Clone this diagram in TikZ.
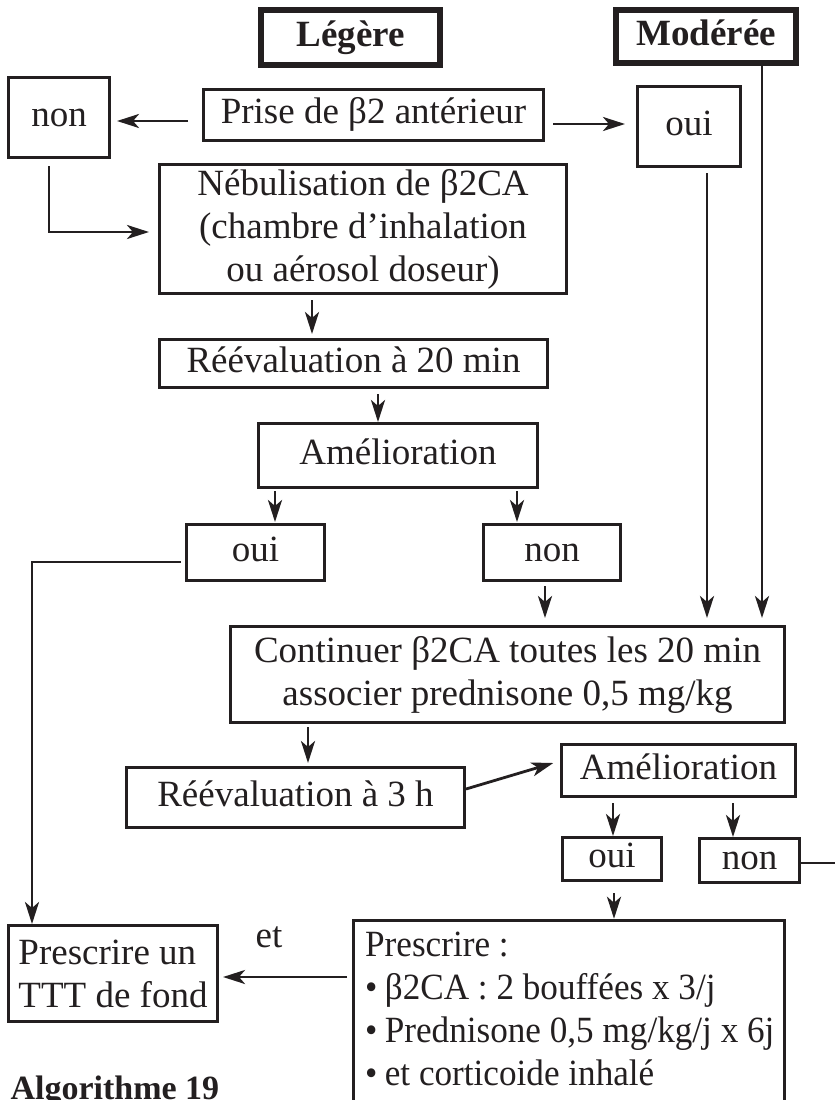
\documentclass[tikz,border=0pt]{standalone}
\usepackage{fontspec}
\setmainfont{Liberation Serif}
\newfontfamily\presfont[FakeStretch=0.95]{Liberation Serif}
\usetikzlibrary{arrows.meta}
\definecolor{ink}{RGB}{35,31,32}
\begin{document}
\begin{tikzpicture}[x=1pt,y=-1pt,
  every node/.style={font=\fontsize{37}{43}\selectfont, text=ink},
  box/.style={draw=ink, line width=3.2pt, inner sep=0pt},
  onel/.style={text height=25pt, text depth=8pt},
  head/.style={box, onel, line width=6pt, font=\fontsize{37}{43}\selectfont\bfseries},
  arr/.style={draw=ink, line width=2.8pt, -{Stealth[length=22pt,width=14pt,inset=6pt]}},
  link/.style={draw=ink, line width=2.8pt},
]
\fill[white] (0,0) rectangle (835,1100);
\useasboundingbox (0,0) rectangle (835,1100);

% severity headers
\node[head, minimum width=179pt, minimum height=55pt] (leg) at (350.5,37.5) {Légère};
\node[head, minimum width=180pt, minimum height=53pt] (mod) at (706,36.5) {Modérée};

% first decision
\node[box, onel, minimum width=339.8pt, minimum height=50.8pt] (prise) at (373.5,115) {Prise de β2 antérieur};
\node[box, onel, minimum width=100.8pt, minimum height=79.8pt] (non1) at (59,117.5) {non};
\node[box, onel, minimum width=102.8pt, minimum height=79.8pt] (oui1) at (689,126.5) {oui};

\node[box, align=center, minimum width=406.8pt, minimum height=128.8pt] (neb) at (363,229)
  {Nébulisation de β2CA\\(chambre d’inhalation\\ou aérosol doseur)};
\node[box, onel, minimum width=387.8pt, minimum height=47.8pt] (ree20) at (353.5,363.5) {Réévaluation à 20 min};
\node[box, onel, minimum width=278.8pt, minimum height=63.8pt] (ame1) at (398,455.5) {Amélioration};
\node[box, onel, minimum width=137.8pt, minimum height=55.8pt] (oui2) at (255.5,552.5) {oui};
\node[box, onel, minimum width=136.8pt, minimum height=55.8pt] (non2) at (552,552.5) {non};

\node[box, align=center, minimum width=553.8pt, minimum height=95.8pt] (cont) at (507.5,674.5)
  {Continuer β2CA toutes les 20 min\\associer prednisone 0,5 mg/kg};
\node[box, onel, minimum width=337.8pt, minimum height=59.8pt] (ree3) at (295.5,797.5) {Réévaluation à 3 h};
\node[box, onel, minimum width=233.8pt, minimum height=51.8pt] (ame2) at (678.5,770.5) {Amélioration};
\node[box, onel, minimum width=98.8pt, minimum height=42.8pt] (oui3) at (612,859) {oui};
\node[box, onel, minimum width=99.8pt, minimum height=43.8pt] (non3) at (749.5,860.5) {non};

% treatment boxes
\node[box, minimum width=430.8pt, minimum height=198pt] (presc) at (569,1019.35) {};
\node[anchor=north west, align=left, inner sep=0pt, font=\presfont\fontsize{37}{43}\selectfont] (presctext) at (365,931.7)
  {Prescrire :\\•\hspace{0.2em}β2CA : 2 bouffées x 3/j\\•\hspace{0.2em}Prednisone 0,5 mg/kg/j x 6j\\•\hspace{0.2em}et corticoide inhalé};
\node[box, align=left, minimum width=208.8pt, minimum height=95.8pt] (fond) at (113,973.5)
  {Prescrire un\\TTT de fond};
\node[anchor=base] (et) at (269,947) {et};
\node[anchor=base west, font=\fontsize{34}{40}\selectfont\bfseries] (algo) at (7,1099) {Algorithme 19};

% connectors
\draw[arr, shorten <=14pt, shorten >=6pt] (prise.west |- 0,121) -- (non1.east |- 0,121);
\draw[arr, shorten <=8pt, shorten >=11pt] (prise.east |- 0,124) -- (oui1.west |- 0,124);
\draw[arr, shorten <=7pt, shorten >=9pt] (non1.south -| 49,0) |- (neb.west |- 0,232);
\draw[arr, shorten <=5pt, shorten >=4pt] (neb.south -| 312,0) -- (ree20.north -| 312,0);
\draw[arr, shorten <=5pt] (ree20.south -| 378,0) -- (ame1.north -| 378,0);
\draw[arr, shorten <=2pt, shorten >=1pt] (ame1.south -| 275,0) -- (oui2.north -| 275,0);
\draw[arr, shorten <=2pt, shorten >=1pt] (ame1.south -| 517,0) -- (non2.north -| 517,0);
\draw[arr, shorten <=4pt] (oui2.west |- 0,562) -| (fond.north -| 32,0);
\draw[arr, shorten <=4pt, shorten >=7pt] (non2.south -| 545,0) -- (cont.north -| 545,0);
\draw[arr, shorten <=5pt, shorten >=7pt] (oui1.south -| 707,0) -- (cont.north -| 707,0);
\draw[arr, shorten >=7pt] (mod.south -| 762,0) -- (cont.north -| 762,0);
\draw[arr, shorten <=3pt, shorten >=3pt] (cont.south -| 308,0) -- (ree3.north -| 308,0);
\draw[arr, shorten >=7pt] (ree3.east |- 0,789) -- (ame2.west |- 0,761);
\draw[arr, shorten <=5pt] (ame2.south -| 613,0) -- (oui3.north -| 613,0);
\draw[arr, shorten <=5pt] (ame2.south -| 733,0) -- (non3.north -| 733,0);
\coordinate (offpage) at (845,863);
\draw[link] (non3.east |- 0,863) -- (offpage);
\draw[arr, shorten <=11pt] (oui3.south -| 614,0) -- (presc.north -| 614,0);
\draw[arr, shorten <=5pt, shorten >=4pt] (presc.west |- 0,977) -- (fond.east |- 0,977);
\end{tikzpicture}
\end{document}
